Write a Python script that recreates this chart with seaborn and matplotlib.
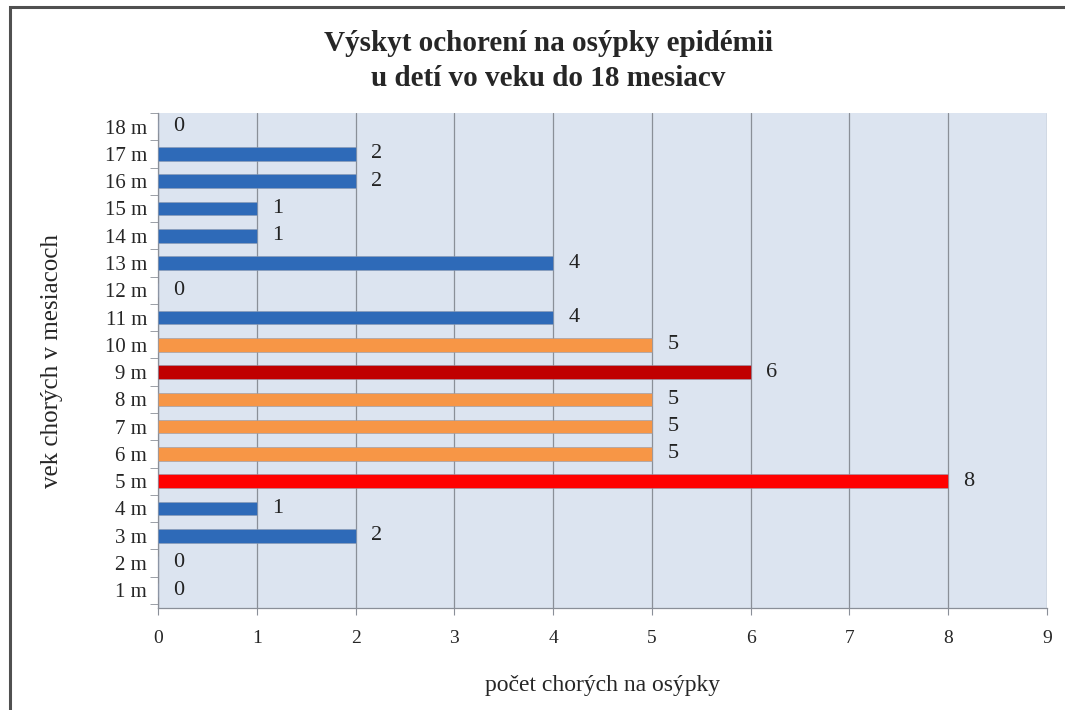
import matplotlib
matplotlib.use('Agg')
import matplotlib.pyplot as plt
import seaborn as sns
import pandas as pd
from matplotlib.patches import Rectangle

# data: age in months and number of measles cases
ages = ['1 m', '2 m', '3 m', '4 m', '5 m', '6 m', '7 m', '8 m', '9 m',
        '10 m', '11 m', '12 m', '13 m', '14 m', '15 m', '16 m', '17 m', '18 m']
cases = [0, 0, 2, 1, 8, 5, 5, 5, 6, 5, 4, 0, 4, 1, 1, 2, 2, 0]
bar_colors = ['#2E6AB8', '#2E6AB8', '#2E6AB8', '#2E6AB8', '#FF0000',
              '#F79646', '#F79646', '#F79646', '#C00000', '#F79646',
              '#2E6AB8', '#2E6AB8', '#2E6AB8', '#2E6AB8', '#2E6AB8',
              '#2E6AB8', '#2E6AB8', '#2E6AB8']

title = 'Výskyt ochorení na osýpky epidémii\nu detí vo veku do 18 mesiacv'
xlabel = 'počet chorých na osýpky'
ylabel = 'vek chorých v mesiacoch'

df = pd.DataFrame({'age': ages, 'cases': cases})
order = ages[::-1]
palette = dict(zip(ages, bar_colors))

sns.set_style('white')
plt.rcParams['font.family'] = ['Liberation Serif', 'DejaVu Serif']

fig = plt.figure(figsize=(10.65, 7.1), dpi=100)
ax = fig.add_axes([0.1484, 0.1437, 0.8347, 0.6971])
ax.set_facecolor('#DCE4F0')

sns.barplot(data=df, x='cases', y='age', hue='age', order=order,
            hue_order=order, palette=palette, legend=False, orient='h',
            width=0.5, saturation=1, ax=ax, zorder=3)

for patch in ax.patches:
    patch.set_edgecolor('#8E9BB0')
    patch.set_linewidth(0.4)

for i, age in enumerate(order):
    v = cases[ages.index(age)]
    ax.annotate(str(v), xy=(v, i), xytext=(11, 0), textcoords='offset points',
                ha='left', va='center', fontsize=16, color='#222222')

ax.set_xlim(0, 9)
ax.set_ylim(17.65, -0.48)
ax.set_xticks(range(0, 10))
ax.xaxis.grid(True, color='#8A8F98', linewidth=0.9, zorder=1)
ax.set_axisbelow(True)

# minor ticks between categories on y
ax.set_yticks([i + 0.5 for i in range(-1, 18)], minor=True)
ax.tick_params(axis='y', which='minor', length=6, color='#8A8F98', direction='out', left=True)
ax.tick_params(axis='y', which='major', length=0, labelsize=15, pad=8)
ax.tick_params(axis='x', which='major', length=5, color='#8A8F98', direction='out',
               bottom=True, labelsize=14, pad=11)

for side in ['top', 'right']:
    ax.spines[side].set_visible(False)
for side in ['left', 'bottom']:
    ax.spines[side].set_color('#8A8F98')
    ax.spines[side].set_linewidth(0.9)

ax.set_xlabel(xlabel, fontsize=17, labelpad=20)
ax.set_ylabel(ylabel, fontsize=18, labelpad=30)
fig.text(548 / 1065, 1 - 61 / 710, title, ha='center', va='center',
         fontsize=21, fontweight='bold', linespacing=1.4)

# outer chart frame
fig.patches.append(Rectangle((10 / 1065, -0.05), 1.2, 1 - 7 / 710 + 0.05,
                             transform=fig.transFigure, fill=False,
                             edgecolor='#505050', linewidth=2.2))

fig.savefig('out.png', dpi=100)
